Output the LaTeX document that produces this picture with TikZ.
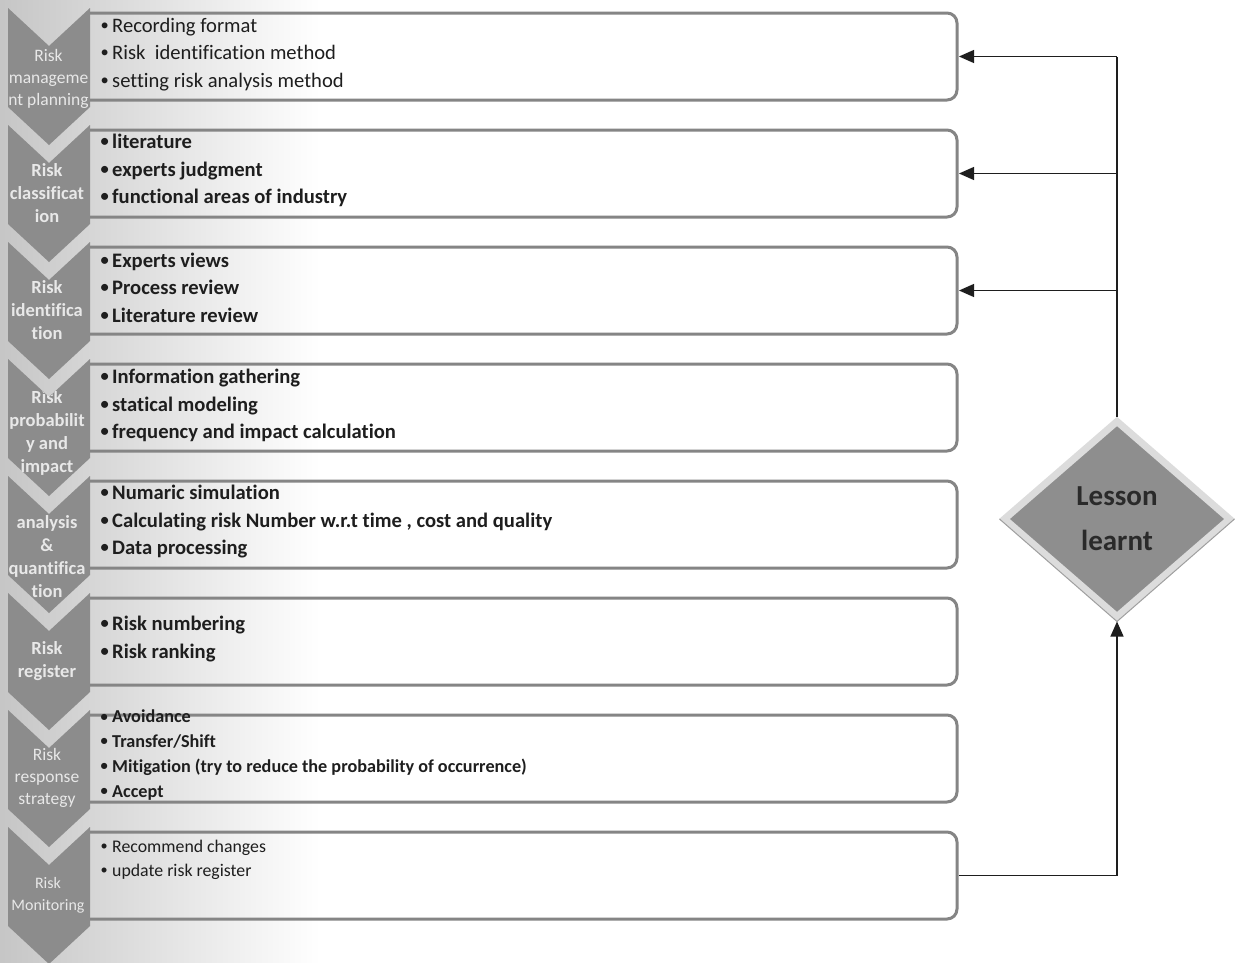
\documentclass[tikz,border=0pt]{standalone}
\usepackage{fontspec}
\setmainfont{Carlito}[Ligatures=NoCommon]
\usetikzlibrary{shapes.geometric,arrows.meta,calc}
\definecolor{chev}{HTML}{8C8C8C}
\definecolor{boxline}{HTML}{858585}
\definecolor{chevtext}{HTML}{E8E8E8}
\definecolor{ink}{HTML}{1E1E1E}
\definecolor{dia}{HTML}{8E8E8E}
\definecolor{diaborder}{HTML}{DCDCDC}
\definecolor{diatext}{HTML}{2A2A2A}
\newcommand\bul{\makebox[13pt][l]{\hspace{1.5pt}\raisebox{0.1em}{\scalebox{0.8}{•}}}}
\begin{document}
\begin{tikzpicture}[x=1pt,y=-1pt,
  chevshape/.style={fill=chev},
  boxnode/.style={minimum width=867pt,minimum height=87pt,inner sep=0pt,outer sep=0pt,anchor=west},
  boxframe/.style={draw=boxline,line width=3pt},
  itemreg/.style={anchor=west,align=left,inner sep=0pt,text=ink,font=\fontsize{20.6}{27.5}\selectfont},
  itembold/.style={anchor=west,align=left,inner sep=0pt,text=ink,font=\bfseries\fontsize{20.6}{27.5}\selectfont},
  itemsmallbold/.style={anchor=west,align=left,inner sep=0pt,text=ink,font=\bfseries\fontsize{18.2}{24.7}\selectfont},
  itemsmall/.style={anchor=west,align=left,inner sep=0pt,text=ink,font=\fontsize{17.8}{24}\selectfont},
  chevbold/.style={text=chevtext,align=center,inner sep=0pt,font=\bfseries\fontsize{18.5}{23}\selectfont},
  chevreg/.style={text=chevtext,align=center,inner sep=0pt,font=\fontsize{17.5}{22}\selectfont},
  conn/.style={draw=ink,line width=1.2pt},
  arr/.style={conn,-{Triangle[length=15pt,width=13pt]}},
]
\useasboundingbox (0,0) rectangle (1244,962);
\fill[white] (0,0) rectangle (1244,962);
\shade[left color=gray!45,right color=white] (0,0) rectangle (320,962);

% boxes
\foreach \k in {1,...,8}{
  \node[boxnode] (b\k) at (90,{56.5+117*(\k-1)}) {};
  \draw[boxframe,rounded corners=10pt] (b\k.north west) -- (b\k.north east) -- (b\k.south east) -- (b\k.south west);
}

% chevrons with clipped labels
\newcommand\chevpath[1]{(-20,#1) -- (8,#1) -- (49,#1+38) -- (90,#1) -- (90,#1+99) -- (49,#1+137) -- (8,#1+99) -- (-20,#1+99) -- cycle}
\foreach \k in {0,...,7}{
  \pgfmathsetmacro\T{8+117*\k}
  \fill[chevshape] (8,\T) -- (49,\T+38) -- (90,\T) -- (90,\T+99) -- (49,\T+137) -- (8,\T+99) -- cycle;
}
\begin{scope}
  \clip \chevpath{8};
  \node[chevreg] (c1) at (48.5,79) {Risk\\manageme\\nt planning};
\end{scope}
\begin{scope}
  \clip \chevpath{125};
  \node[chevbold] (c2) at (47,193) {Risk\\classificat\\ion};
\end{scope}
\begin{scope}
  \clip \chevpath{242};
  \node[chevbold] (c3) at (47,310) {Risk\\identifica\\tion};
\end{scope}
\begin{scope}
  \clip \chevpath{359};
  \node[chevbold] (c4) at (47,432.5) {Risk\\probabilit\\y and\\impact};
\end{scope}
\begin{scope}
  \clip \chevpath{476};
  \node[chevbold] (c5) at (47,557) {analysis\\\&\\quantifica\\tion};
\end{scope}
\begin{scope}
  \clip \chevpath{593};
  \node[chevbold] (c6) at (47,661) {Risk\\register};
\end{scope}
\begin{scope}
  \clip \chevpath{710};
  \node[chevreg] (c7) at (47,778) {Risk\\response\\strategy};
\end{scope}
\begin{scope}
  \clip \chevpath{827};
  \node[chevreg,font=\fontsize{16}{22}\selectfont] (c8) at (48,895) {Risk\\Monitoring};
\end{scope}

% box texts
\node[itemreg] (t1) at (99,54.5) {\bul Recording format\\\bul Risk\ \ identification method\\\bul setting risk analysis method};
\node[itembold] (t2) at (99,170.5) {\bul literature\\\bul experts judgment\\\bul functional areas of industry};
\node[itembold] (t3) at (99,287.5) {\bul Experts views\\\bul Process review\\\bul Literature review};
\node[itembold] (t4) at (99,405.5) {\bul Information gathering\\\bul statical modeling\\\bul frequency and impact calculation};
\node[itembold] (t5) at (99,522) {\bul Numaric simulation\\\bul Calculating risk Number w.r.t time , cost and quality\\\bul Data processing};
\node[itembold] (t6) at (99,639) {\bul Risk numbering\\\bul Risk ranking};
\node[itemsmallbold] (t7) at (99,755) {\bul Avoidance\\\bul Transfer/Shift\\\bul Mitigation (try to reduce the probability of occurrence)\\\bul Accept};
\node[itemsmall] (t8) at (99,860) {\bul Recommend changes\\\bul update risk register};

% diamond
\node[diamond,fill=dia,draw=diaborder,line width=7pt,minimum width=228pt,minimum height=198pt,
      inner sep=0pt,text=diatext,align=center,font=\bfseries\fontsize{29}{45}\selectfont] (lesson) at (1117,519) {Lesson\\learnt};
\draw[gray!75,line width=1pt] (lesson.west) -- (lesson.south) -- (lesson.east);

% connectors
\draw[conn] (lesson.north) -- (lesson.north |- b1.east);
\draw[arr] (lesson.north |- b1.east) -- ([xshift=2pt]b1.east);
\draw[arr] (lesson.north |- b2.east) -- ([xshift=2pt]b2.east);
\draw[arr] (lesson.north |- b3.east) -- ([xshift=2pt]b3.east);
\draw[arr] ([xshift=1.5pt]b8.east) -| (lesson.south);
\end{tikzpicture}
\end{document}
